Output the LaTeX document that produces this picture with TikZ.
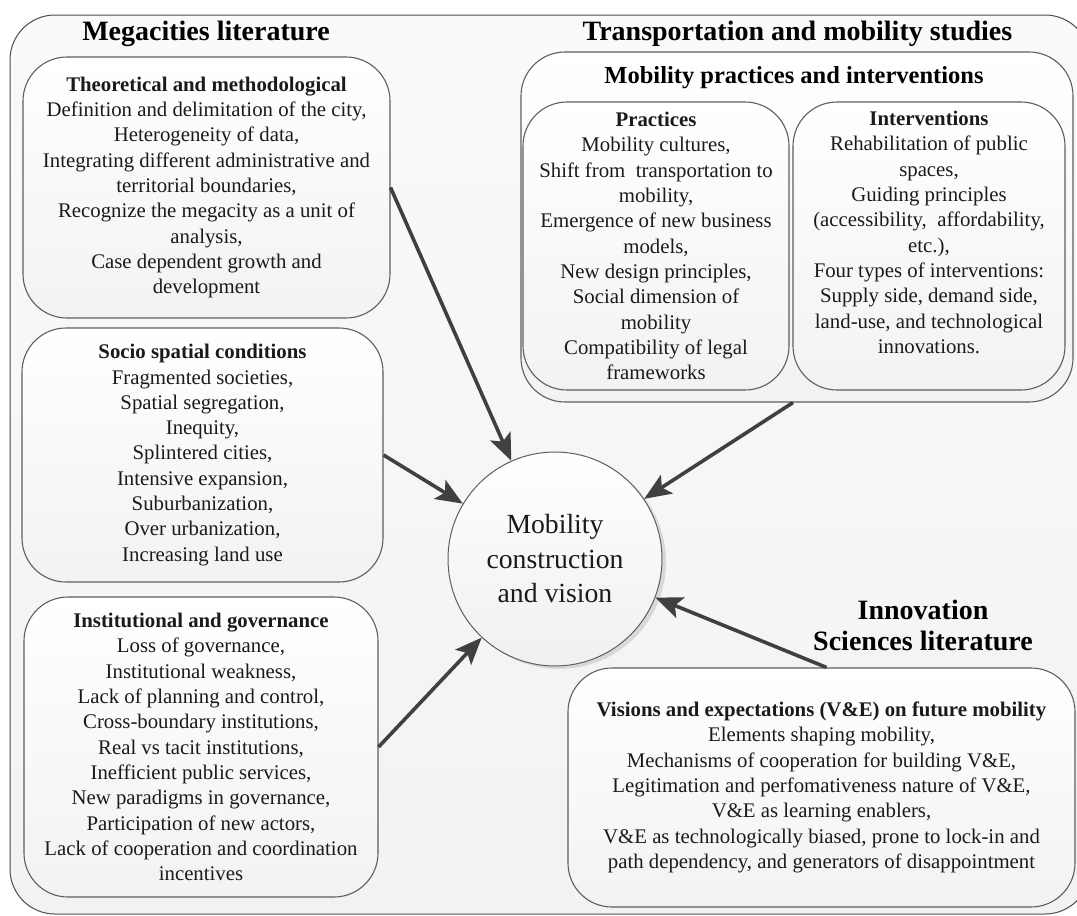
\documentclass[tikz,border=0pt]{standalone}
\usepackage{fontspec}
\setmainfont{Liberation Serif}
\usetikzlibrary{arrows.meta,shadows}

\definecolor{ink}{HTML}{1A1A1A}
\definecolor{edge}{HTML}{5E5E5E}
\definecolor{arrowgray}{HTML}{404040}

\begin{document}
\begin{tikzpicture}[x=1pt,y=-1pt,
  bodyfont/.style={font=\fontsize{20.8}{25.3}\selectfont},
  frame/.style={draw=black!70, line width=1pt, rounded corners=45pt,
    top color=black!2, bottom color=black!5, inner sep=0pt},
  panel/.style={draw=edge, line width=1.1pt, rounded corners=44pt,
    top color=white, bottom color=black!5, inner sep=0pt,
    text=ink, align=center, bodyfont},
  heading/.style={text=black, font=\fontsize{28}{31}\selectfont\bfseries, align=center, inner sep=0pt},
  bodytext/.style={text=ink, align=center, bodyfont, inner sep=0pt},
  hub/.style={circle, draw=edge, line width=1pt, minimum size=214pt, inner sep=0pt,
    top color=white, bottom color=black!6, text=ink, align=center,
    font=\fontsize{27.7}{34.5}\selectfont,
    drop shadow={shadow xshift=4pt, shadow yshift=-3pt, opacity=0.3, fill=black!40}},
  link/.style={draw=arrowgray, line width=3.6pt,
    -{Stealth[length=27pt, width=22pt, inset=6pt]}}
]
\path[use as bounding box, clip] (0,0) rectangle (1077,916);

% outer frame holding the three bodies of literature
\node[frame, minimum width=1080pt, minimum height=899pt] (bg) at (550,464.5) {};

% section headings
\node[heading, anchor=base] (megatitle) at (206,40) {Megacities literature};
\node[heading, anchor=base] (transtitle) at (797.5,40) {Transportation and mobility studies};
\node[heading] (innotitle) at (923,625) {Innovation\\Sciences literature};

% megacities panels
\node[panel, minimum width=367pt, minimum height=261pt] (theo) at (206.5,187.5)
  {\textbf{Theoretical and methodological}\\
   Definition and delimitation of the city,\\
   Heterogeneity of data,\\
   Integrating different administrative and\\
   territorial boundaries,\\
   Recognize the megacity as a unit of\\
   analysis,\\
   Case dependent growth and\\
   development};

\node[panel, minimum width=361pt, minimum height=254pt] (socio) at (202.5,455)
  {\textbf{Socio spatial conditions}\\
   Fragmented societies,\\
   Spatial segregation,\\
   Inequity,\\
   Splintered cities,\\
   Intensive expansion,\\
   Suburbanization,\\
   Over urbanization,\\
   Increasing land use};

\node[panel, minimum width=354pt, minimum height=300pt] (inst) at (201,747)
  {\textbf{Institutional and governance}\\
   Loss of governance,\\
   Institutional weakness,\\
   Lack of planning and control,\\
   Cross-boundary institutions,\\
   Real vs tacit institutions,\\
   Inefficient public services,\\
   New paradigms in governance,\\
   Participation of new actors,\\
   Lack of cooperation and coordination\\
   incentives};

% transportation panels
\node[panel, minimum width=552pt, minimum height=350pt] (mob) at (797,227) {};
\node[text=black, font=\fontsize{24.5}{28}\selectfont\bfseries, inner sep=0pt]
  (mobtitle) at (794,78) {Mobility practices and interventions};

\node[panel, minimum width=266pt, minimum height=288pt] (prac) at (656,246)
  {\textbf{Practices}\\
   Mobility cultures,\\
   Shift from~ transportation to\\
   mobility,\\
   Emergence of new business\\
   models,\\
   New design principles,\\
   Social dimension of\\
   mobility\\
   Compatibility of legal\\
   frameworks};

\node[panel, minimum width=272pt, minimum height=288pt] (interv) at (929,246) {};
\node[bodytext, anchor=north] (intervtext) at (929,111)
  {\textbf{Interventions}\\
   Rehabilitation of public\\
   spaces,\\
   Guiding principles\\
   (accessibility,~ affordability,\\
   etc.),\\
   Four types of interventions:\\
   Supply side, demand side,\\
   land-use, and technological\\
   innovations.};

% innovation sciences panel
\node[panel, minimum width=507pt, minimum height=239pt] (ve) at (821.5,787.5)
  {\textbf{Visions and expectations (V\&E) on future mobility}\\
   Elements shaping mobility,\\
   Mechanisms of cooperation for building V\&E,\\
   Legitimation and perfomativeness nature of V\&E,\\
   V\&E as learning enablers,\\
   V\&E as technologically biased, prone to lock-in and\\
   path dependency, and generators of disappointment};

% central concept
\node[hub] (hub) at (555,559) {Mobility\\construction\\and vision};

% contributions flowing into the central concept
\draw[link] (theo.east) -- (hub.114);
\draw[link] (socio.east) -- (hub.149);
\draw[link] (inst.east) -- (hub.227);
\draw[link] ([xshift=-4pt]mob.south) -- (hub.34);
\draw[link] ([xshift=5pt]ve.north) -- (hub.-21);
\end{tikzpicture}
\end{document}
